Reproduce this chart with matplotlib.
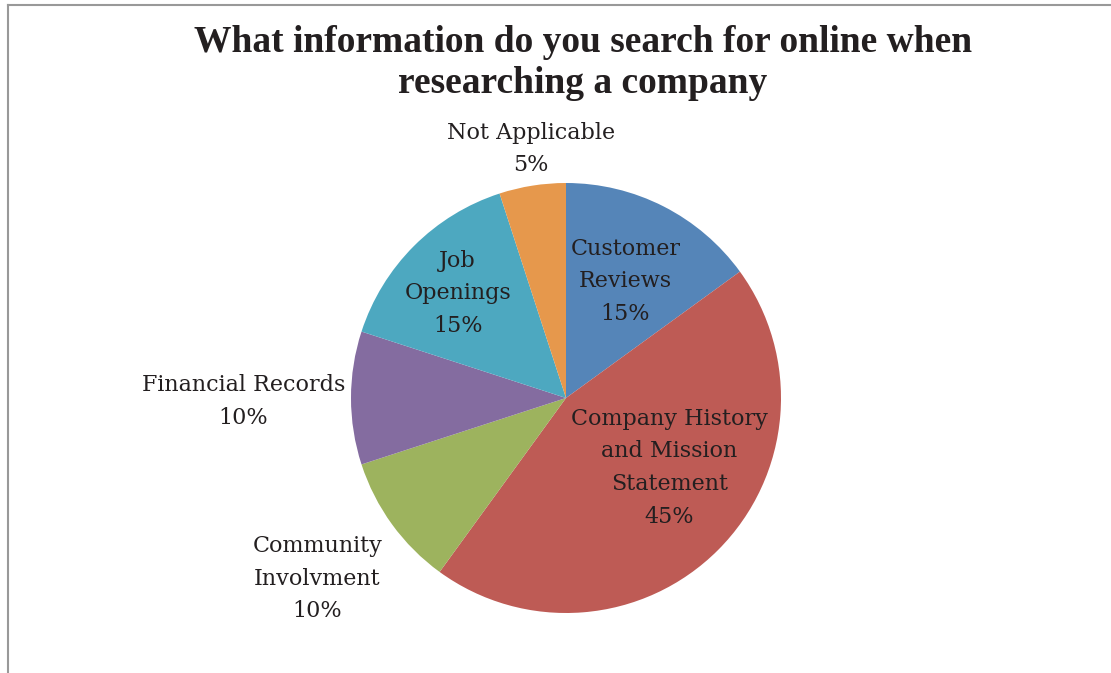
import matplotlib
matplotlib.use("Agg")
import matplotlib.pyplot as plt
import numpy as np

# Survey answers
categories = ["Customer\nReviews", "Company History\nand Mission\nStatement",
              "Community\nInvolvment", "Financial Records", "Job\nOpenings",
              "Not Applicable"]
shares = [15, 45, 10, 10, 15, 5]
colors = ["#5585B8", "#BE5B55", "#9DB35E", "#846CA0", "#4DA8C0", "#E6984C"]

# label placement: radial distance (in radii) and angular nudge (deg)
label_dist = [0.61, 0.58, 1.43, 1.50, 0.70, 1.17]
label_nudge = [0, 11, 0, 0.6, 1, -1]

W, H = 1111, 673
fig = plt.figure(figsize=(W / 100, H / 100), dpi=100)
ax = fig.add_axes([0, 0, 1, 1])

cx, cy, r = 566, H - 398, 215
wedges, _ = ax.pie(shares, colors=colors, startangle=90, counterclock=False,
                   center=(cx, cy), radius=r,
                   wedgeprops=dict(linewidth=0))

label_font = dict(family="DejaVu Serif", fontsize=16, color="#231f20",
                  ha="center", va="center", linespacing=1.62)
for w, name, v, d, nudge in zip(wedges, categories, shares, label_dist, label_nudge):
    ang = np.deg2rad((w.theta1 + w.theta2) / 2 + nudge)
    x = cx + d * r * np.cos(ang)
    y = cy + d * r * np.sin(ang)
    ax.text(x, y, f"{name}\n{v}%", **label_font)

ax.set_xlim(0, W)
ax.set_ylim(0, H)
ax.set_aspect("equal")
ax.axis("off")

fig.text(583 / W, 1 - 63 / H,
         "What information do you search for online when\nresearching a company",
         ha="center", va="center", family="Liberation Serif", fontweight="bold",
         fontsize=27, color="#231f20", linespacing=1.2)

# outer chart frame
fig.add_artist(plt.Line2D([8 / W, 8 / W], [0, 1 - 4.5 / H], transform=fig.transFigure,
                          color="#999999", lw=1.5))
fig.add_artist(plt.Line2D([8 / W, 1], [1 - 4.5 / H, 1 - 4.5 / H], transform=fig.transFigure,
                          color="#999999", lw=1.5))

fig.savefig("out.png", dpi=100)
